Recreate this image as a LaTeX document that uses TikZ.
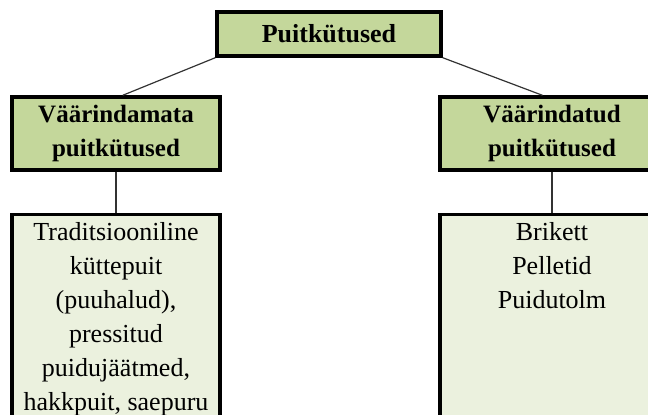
\documentclass[tikz,border=0pt]{standalone}
\usepackage{fontspec}
\setmainfont{Liberation Serif}
\definecolor{headgreen}{HTML}{C4D79B}
\definecolor{leafgreen}{HTML}{EBF1DE}
\begin{document}
\begin{tikzpicture}[x=0.5pt,y=-0.5pt,
  head/.style={draw, line width=1.7pt, fill=headgreen, align=center, inner sep=0pt,
    font=\bfseries\fontsize{12.5}{17}\selectfont},
  leaf/.style={draw, line width=1.7pt, fill=leafgreen, anchor=north, inner xsep=2pt, inner ysep=4pt,
    font=\fontsize{13}{17}\selectfont},
  link/.style={draw, line width=0.6pt, black!80}]
\useasboundingbox (0,0) rectangle (648,414);
\clip (0,0) rectangle (648,414);
\node[head,minimum width=112pt,minimum height=22pt,font=\bfseries\fontsize{13}{17}\selectfont] (1) at (329,34) {Puitkütused};
\node[head,minimum width=104pt,minimum height=36.5pt] (2a) at (116,133.5) {Väärindamata\\puitkütused};
\node[head,minimum width=112pt,minimum height=36.5pt] (2b) at (552,133.5) {Väärindatud\\puitkütused};
\node[leaf,minimum width=104pt] (3a) at (116,213) {\parbox[t][112pt][t]{100pt}{\centering Traditsiooniline\\küttepuit\\(puuhalud),\\pressitud\\puidujäätmed,\\hakkpuit, saepuru}};
\node[leaf,minimum width=112pt] (3b) at (552,213) {\parbox[t][112pt][t]{100pt}{\centering Brikett\\Pelletid\\Puidutolm}};
\path[link] (1.south west) -- (2a.80);
\path[link] (1.south east) -- (2b.104);
\path[link] (2a.south) -- (3a.north);
\path[link] (2b.south) -- (3b.north);
\end{tikzpicture}
\end{document}
